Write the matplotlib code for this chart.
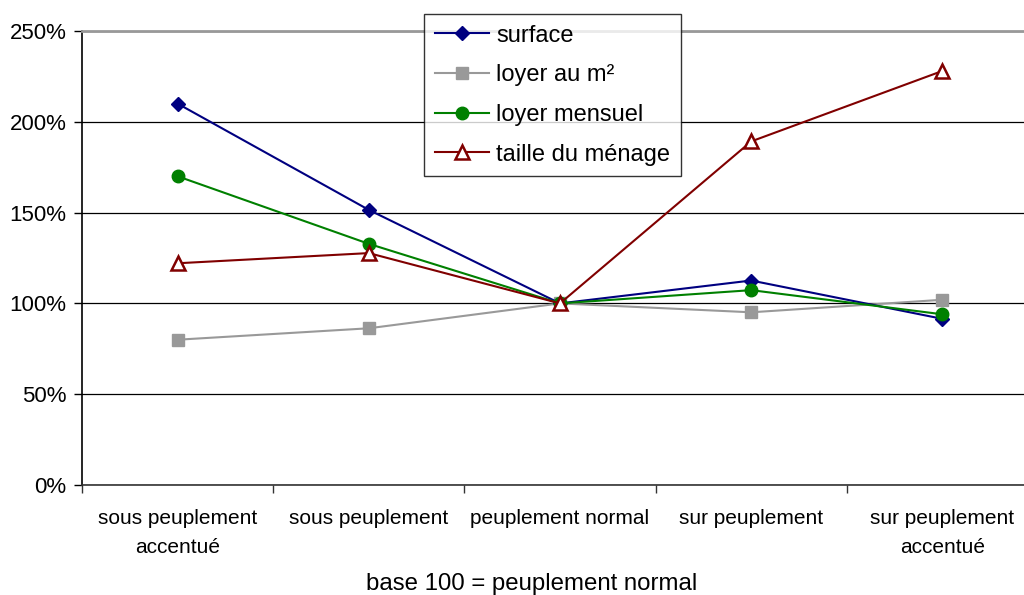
import matplotlib.pyplot as plt
import matplotlib.ticker as mticker

plt.rcParams['font.family'] = ['Liberation Sans', 'DejaVu Sans']

categories = ['sous peuplement\naccentué', 'sous peuplement', 'peuplement normal',
              'sur peuplement', 'sur peuplement\naccentué']
surface = [210, 151.5, 100, 112.6, 91.5]
loyer_m2 = [80, 86.3, 100, 95.1, 102]
loyer_mensuel = [170, 132.8, 100, 107.3, 94]
taille_menage = [122.1, 127.7, 100, 189.2, 228]

fig = plt.figure(figsize=(10.24, 5.95), dpi=100)
# plot area runs a little past the right edge of the figure
ax = fig.add_axes([82 / 1024, 1 - 485 / 595, (1038 - 82) / 1024, (485 - 31) / 595])

x = range(len(categories))
ax.plot(x, surface, color='#000080', lw=1.5, marker='D', ms=7.5, label='surface', zorder=4)
ax.plot(x, loyer_m2, color='#999999', lw=1.5, marker='s', ms=8.5, label='loyer au m²', zorder=3)
ax.plot(x, loyer_mensuel, color='#008000', lw=1.5, marker='o', ms=9, label='loyer mensuel', zorder=4)
ax.plot(x, taille_menage, color='#800000', lw=1.5, marker='^', ms=10, mfc='white',
        mew=1.8, label='taille du ménage', zorder=5)

ax.set_xlim(-0.5, len(categories) - 0.5)
ax.set_ylim(0, 250)
ax.yaxis.set_major_locator(mticker.MultipleLocator(50))
ax.yaxis.set_major_formatter(mticker.FuncFormatter(lambda v, p: f'{v:.0f}%'))
ax.set_xticks([i + 0.5 for i in range(-1, len(categories))])
ax.set_xticklabels([])
ax.set_xticks(list(x), minor=True)
ax.set_xticklabels(categories, minor=True, fontsize=15, linespacing=1.7)
ax.tick_params(axis='x', which='minor', length=0, pad=17)
ax.tick_params(axis='x', which='major', length=6, width=1, color='#333333')
ax.tick_params(axis='y', length=6, width=1, labelsize=16, pad=5)

ax.grid(axis='y', color='black', lw=0.9)
ax.set_axisbelow(True)
ax.spines['right'].set_visible(False)
ax.spines['top'].set_color('#999999')
ax.spines['top'].set_linewidth(2)
ax.spines['left'].set_linewidth(1.2)
ax.spines['bottom'].set_linewidth(1.2)
ax.spines['bottom'].set_color('#333333')

fig.text(532 / 1024, 1 - 584 / 595, 'base 100 = peuplement normal', ha='center', va='center',
         fontsize=17.3)

leg = ax.legend(loc='upper left', bbox_to_anchor=(424 / 1024, 1 - 14 / 595),
                bbox_transform=fig.transFigure, fontsize=17, frameon=True, fancybox=False,
                handlelength=2.3, handletextpad=0.3, labelspacing=0.75, borderpad=0.45,
                borderaxespad=0)
leg.get_frame().set_edgecolor('black')
leg.get_frame().set_linewidth(1)
leg.set_zorder(10)

fig.savefig('out.png', dpi=100)
